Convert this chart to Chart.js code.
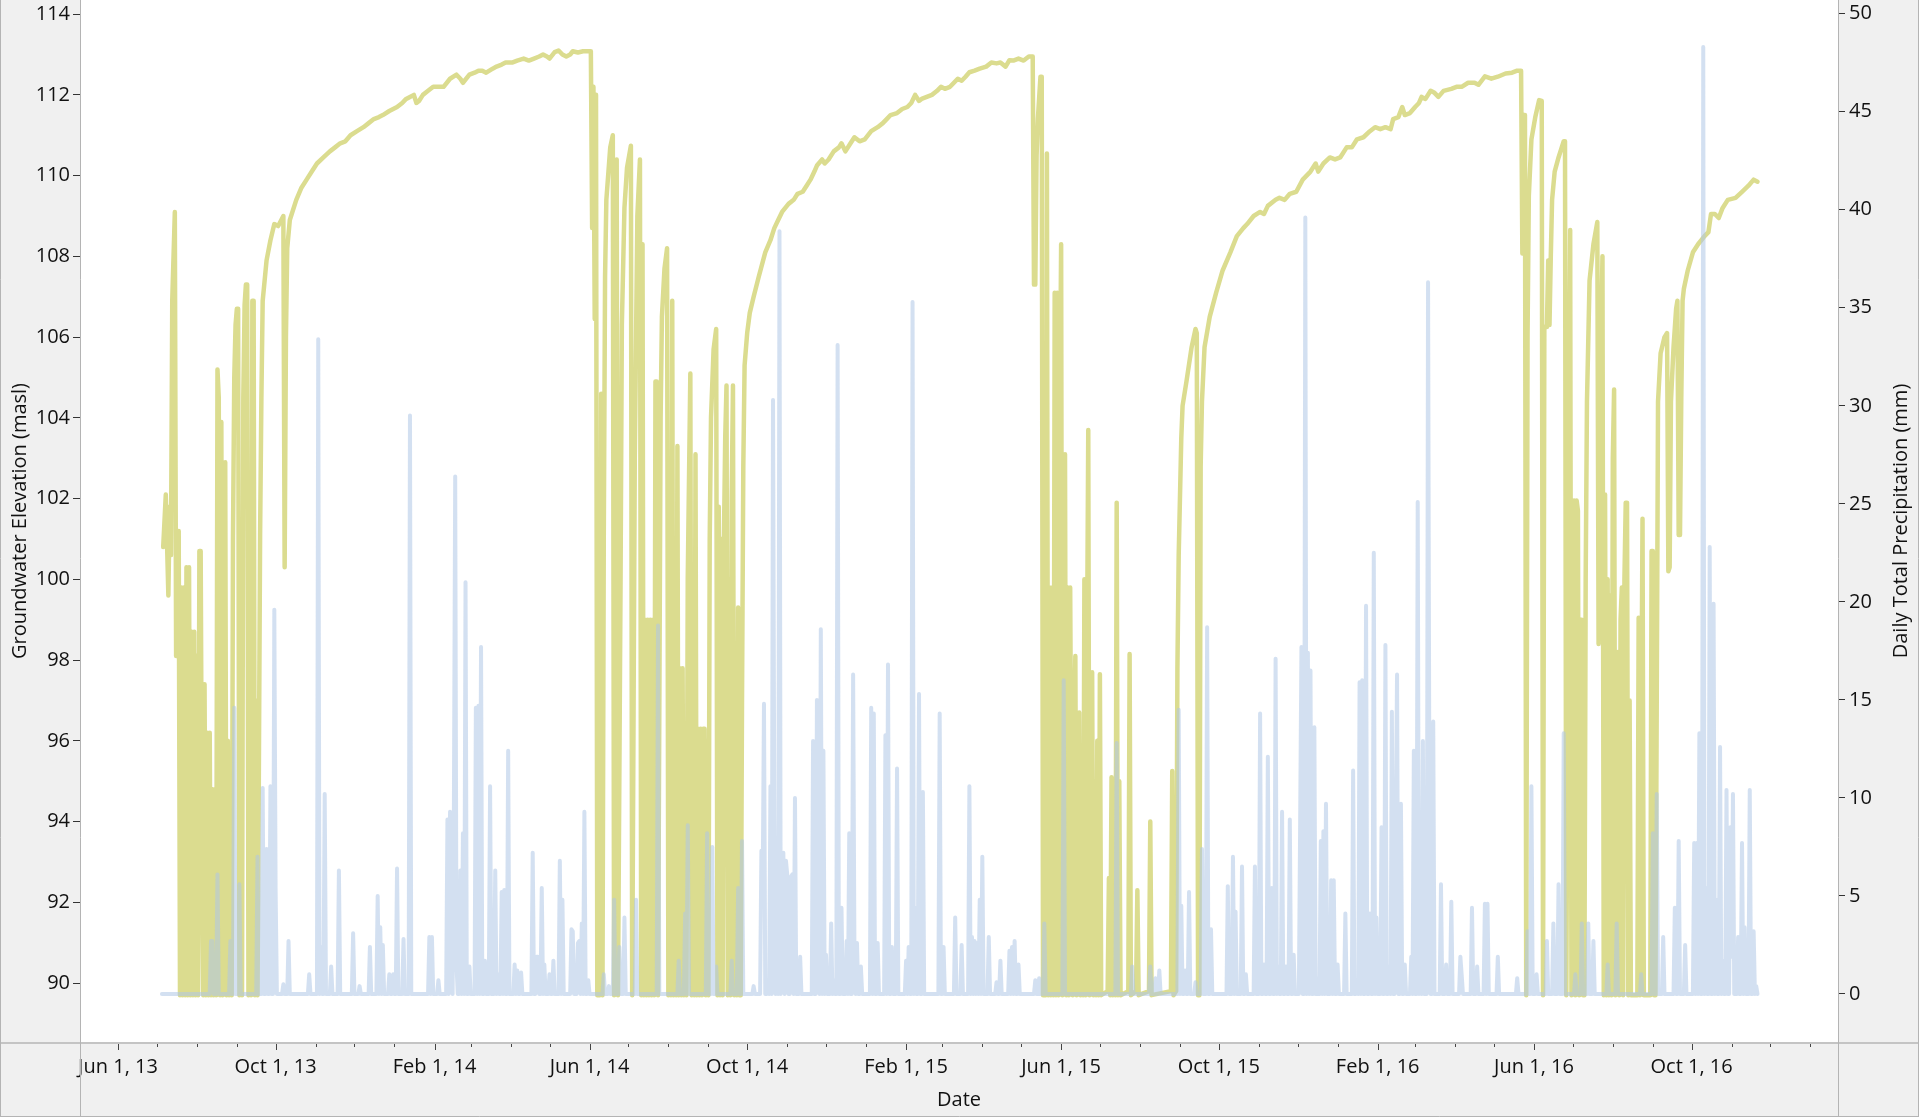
<!DOCTYPE html>
<html>
<head>
<meta charset="utf-8">
<title>Groundwater Elevation and Daily Total Precipitation</title>
<script src="https://cdn.jsdelivr.net/npm/chart.js@4.4.1/dist/chart.umd.min.js"></script>
<style>
  html, body { margin: 0; padding: 0; background: #f0f0f0; }
  #wrap { width: 1919px; height: 1117px; }
</style>
</head>
<body>
<div id="wrap"><canvas id="chart-gw" width="1919" height="1117"></canvas></div>
<script>
/**
 * Groundwater elevation vs daily precipitation, Jun 2013 - Nov 2016
 * Days are counted from 1 Jun 2013 (day 0).
 */

// Groundwater elevation (masl): [day, level]
var gw2013 = [
  [35,100.8],[37,102.1],[39,99.6],[40,101.8],[41,100.6],[42,106.9],[44,109.1],[45,98.1],[47,101.2],[48,89.7],
  [49,99.8],[50,89.7],[51,99.8],[52,89.7],[53,100.3],[54,89.7],[55,100.3],[56,89.7],[57,98.7],[58,89.7],
  [59,98.7],[60,89.7],[61,98.1],[62,89.7],[63,100.7],[64,100.7],[65,93.8],[66,89.7],[67,97.4],[68,89.7],
  [69,96.2],[70,89.7],[71,96.2],[72,89.7],[73,94.8],[74,89.7],[75,94.8],[76,89.7],[77,105.2],[78,104.5],
  [79,89.7],[80,103.9],[81,89.7],[82,98.2],[83,102.9],[84,89.7],[85,96],[86,89.7],[87,95],[88,89.7],
  [89,101],[90,105],[91,106.3],[92,106.7],[93,106.7],[94,89.7],[95,99],[96,89.7],[97,104.5],[98,106.8],
  [99,107.3],[100,107.3],[101,89.7],[102,99],[103,89.7],[104,106.9],[105,106.9],[106,89.7],[107,97],[108,89.7],
  [109,95],[110,101.1],[111,104.5],[112,106.9],[115,107.9],[118,108.4],[121,108.8],[124,108.75],[128,109.0],[129,100.3],
  [130,106],[131,108.2],[133,108.9],[138,109.4],[142,109.7],[146,109.9],[150,110.1],[154,110.3],[159,110.45],[164,110.6],
  [168,110.7],[172,110.8],[176,110.85],[180,111.0],[185,111.1],[190,111.2],[194,111.3],[198,111.4],[202,111.45],[205,111.5],
  [210,111.6]
];
var gw2014 = [
  [216,111.7],[220,111.8],[223,111.9],[226,111.95],[229,112.0],[231,111.8],[233,111.85],[236,112.0],[240,112.1],[244,112.2],
  [248,112.2],[252,112.2],[257,112.4],[262,112.5],[265,112.4],[267,112.3],[272,112.5],[276,112.55],[279,112.6],[282,112.6],
  [285,112.55],[290,112.65],[293,112.7],[297,112.75],[300,112.8],[305,112.8],[309,112.85],[314,112.9],[318,112.85],[322,112.9],
  [326,112.95],[329,113.0],[332,112.95],[334,112.9],[338,113.06],[341,113.1],[344,113.0],[347,112.95],[350,113.0],[352,113.08],
  [356,113.05],[360,113.08],[366,113.08],[367,108.7],[368,112.2],[369,106.45],[370,112.0],[371,89.7],[373,89.7],[374,104.6],
  [375,89.7],[376,101],[377,107.5],[378,109.4],[381,110.7],[383,111.0],[384,89.7],[385,105],[386,110.4],[387,89.7],
  [389,100],[390,106.3],[392,109.2],[394,110.2],[397,110.74],[398,89.7],[400,103],[402,109],[404,110.4],[405,89.7],
  [406,108.3],[407,89.7],[408,99],[409,89.7],[410,99],[411,89.7],[412,99],[413,89.7],[414,99],[415,89.7],
  [416,104.9],[417,104.9],[418,89.7],[420,104],[421,106.5],[423,107.7],[425,108.2],[426,89.7],[427,102],[428,89.7],
  [429,106.9],[430,89.7],[431,98],[432,89.7],[433,103.3],[434,89.7],[435,97.8],[436,89.7],[437,97.8],[438,89.7],
  [439,96],[440,89.7],[441,100],[443,105.1],[444,89.7],[445,98],[446,89.7],[447,103.1],[448,89.7],[449,96.3],
  [450,89.7],[451,96.3],[452,89.7],[453,96.3],[454,96.3],[455,89.7],[456,96.0],[457,89.7],[458,101],[459,104],
  [461,105.7],[463,106.2],[464,89.7],[465,101.8],[466,89.7],[467,101],[468,89.7],[469,101],[470,103.5],[471,104.8],
  [472,89.7],[473,100],[474,89.7],[475,102],[476,104.8],[477,89.7],[478,96.9],[479,89.7],[480,99.3],[481,89.7],
  [482,89.7],[483,97],[484,102.8],[485,105.3],[487,106.1],[489,106.6],[492,107.0],[496,107.5],[501,108.1],[505,108.4],
  [508,108.7],[511,108.9],[514,109.1],[519,109.3],[523,109.4],[526,109.55],[530,109.6],[533,109.75],[536,109.9],[539,110.1],
  [541,110.25],[545,110.4],[547,110.3],[550,110.4],[554,110.6],[558,110.7],[560,110.8],[563,110.6],[567,110.8],[570,110.95],
  [574,110.85],[578,110.9]
];
var gw2015 = [
  [583,111.1],[588,111.2],[592,111.3],[595,111.4],[598,111.5],[603,111.55],[607,111.65],[611,111.7],[614,111.8],[617,112.0],
  [620,111.85],[622,111.9],[626,111.95],[630,112.0],[634,112.1],[637,112.2],[640,112.15],[644,112.2],[647,112.3],[650,112.4],
  [653,112.35],[656,112.45],[659,112.56],[663,112.6],[667,112.65],[672,112.7],[676,112.8],[680,112.78],[683,112.8],[687,112.7],
  [690,112.86],[693,112.85],[697,112.9],[701,112.85],[705,112.95],[708,112.95],[709,107.3],[710,107.3],[711,110.5],[712,111.4],
  [714,112.45],[715,112.45],[716,89.7],[718,89.7],[719,110.55],[720,89.7],[721,99.8],[722,89.7],[723,99.8],[724,89.7],
  [725,107.1],[726,89.7],[727,107.1],[728,89.7],[729,104],[730,108.3],[731,89.7],[732,98],[733,103.1],[734,89.7],
  [735,99.8],[736,89.7],[737,99.8],[738,93.85],[739,89.7],[740,96],[741,98.1],[742,89.7],[743,95],[744,96.7],
  [745,89.7],[746,94],[747,89.7],[748,100.0],[749,89.7],[750,98],[751,103.7],[752,89.7],[753,96],[754,97.7],
  [755,89.7],[756,95],[757,89.7],[758,96],[759,89.7],[760,97.65],[761,89.7],[766,89.8],[767,92.6],[768,89.7],
  [769,95.1],[770,89.7],[771,95],[772,89.7],[773,101.9],[774,89.7],[775,95],[776,89.7],[782,89.8],[783,98.15],
  [784,89.7],[788,89.8],[789,92.3],[790,89.7],[798,89.8],[799,94.0],[800,89.7],[815,89.8],[816,95.25],[817,89.7],
  [819,89.8],[820,97.8],[821,100.6],[823,103.5],[824,104.3],[827,104.9],[831,105.75],[834,106.2],[835,106.1],[836,89.7],
  [837,89.7],[838,102.8],[839,104.4],[841,105.75],[845,106.5],[850,107.1],[855,107.65],[861,108.1],[866,108.5],[871,108.7],
  [874,108.8],[879,109.0],[884,109.1],[887,109.05],[890,109.25],[896,109.4],[899,109.45],[903,109.4],[907,109.55],[912,109.6],
  [917,109.9],[923,110.1],[927,110.3],[929,110.1],[933,110.3],[938,110.45],[942,110.4]
];
var gw2016 = [
  [946,110.45],[951,110.7],[955,110.7],[959,110.9],[964,110.95],[969,111.1],[973,111.2],[977,111.15],[981,111.2],[985,111.15],
  [987,111.4],[991,111.45],[994,111.7],[996,111.5],[1000,111.55],[1004,111.7],[1007,111.8],[1009,111.95],[1012,111.9],[1016,112.1],
  [1019,112.05],[1022,111.95],[1026,112.1],[1032,112.15],[1036,112.2],[1040,112.2],[1045,112.3],[1050,112.3],[1053,112.25],[1058,112.46],
  [1063,112.4],[1068,112.45],[1074,112.53],[1079,112.55],[1083,112.6],[1086,112.6],[1087,108.07],[1088,111.5],[1089,111.5],[1090,89.7],
  [1091,106],[1092,109.5],[1094,110.9],[1097,111.45],[1100,111.87],[1102,111.85],[1103,89.7],[1104,106.25],[1106,106.25],[1107,107.9],
  [1108,106.3],[1109,108],[1110,109.4],[1112,110.1],[1115,110.45],[1119,110.85],[1120,110.85],[1121,89.7],[1123,104],[1124,108.65],
  [1125,89.7],[1126,100],[1127,101.95],[1128,89.7],[1129,101.95],[1130,101.7],[1131,89.7],[1132,99],[1133,99.0],[1134,89.7],
  [1135,89.7],[1136,100],[1137,104.4],[1139,107.4],[1142,108.3],[1145,108.85],[1146,98.4],[1147,104],[1149,108.0],[1150,89.7],
  [1151,102.1],[1152,89.7],[1153,100],[1154,89.7],[1155,99.6],[1156,89.7],[1157,103],[1158,104.7],[1159,89.7],[1160,98],
  [1161,98.2],[1162,89.7],[1163,99],[1164,99.8],[1165,89.7],[1166,100],[1167,101.9],[1168,101.9],[1169,89.7],[1170,97],
  [1171,89.7],[1176,89.7],[1177,99.05],[1178,89.7],[1179,96],[1180,101.5],[1181,89.7],[1186,89.7],[1187,100.7],[1188,100.7],
  [1189,89.7],[1190,89.7],[1191,97],[1192,104.4],[1194,105.6],[1197,106.0],[1199,106.1],[1200,100.2],[1201,100.3],[1202,104.4],
  [1204,105.75],[1206,106.7],[1207,106.9],[1208,101.1],[1209,101.1],[1210,104.5],[1211,106.9],[1212,107.2],[1215,107.65],[1219,108.1],
  [1223,108.3],[1228,108.5],[1231,108.6],[1233,109.05],[1236,109.05],[1239,108.95],[1242,109.2],[1246,109.4],[1252,109.45],[1257,109.6],
  [1262,109.75],[1266,109.9],[1269,109.85]
];

// Daily total precipitation (mm) on rain days: [day, mm]; every other day is 0
var rain2013 = [
  [72,2.7],[73,2.7],[77,6.1],[87,2.7],[90,14.6],[94,5.6],[108,7.0],[112,10.5],[115,7.4],[118,10.6],
  [121,19.6],[122,5.3],[128,0.5],[132,2.7],[148,1.0],[155,33.4],[157,2.4],[160,10.2],[165,1.4],[171,6.3],
  [182,3.1],[187,0.4],[195,2.4],[201,5.0],[203,3.4],[205,2.5],[210,1.0],[213,1.0]
];
var rain2014 = [
  [216,6.4],[221,2.8],[226,29.5],[241,2.9],[243,2.9],[248,0.7],[255,8.9],[257,9.3],[258,3.1],[260,9.4],
  [261,26.4],[262,1.5],[265,6.3],[267,8.2],[269,21.0],[272,1.4],[277,14.6],[279,14.7],[281,17.7],[284,1.7],
  [288,10.6],[292,6.3],[294,1.0],[297,5.2],[299,5.3],[302,12.4],[307,1.5],[309,1.2],[312,1.1],[321,7.2],
  [324,1.9],[325,1.9],[328,5.4],[330,1.5],[334,1.0],[337,1.7],[342,6.8],[344,4.8],[351,3.3],[352,3.2],
  [356,2.6],[357,2.7],[359,3.6],[361,9.3],[364,0.7],[376,1.0],[380,0.4],[384,4.8],[388,2.4],[392,3.9],
  [401,4.8],[418,18.8],[434,1.7],[439,4.1],[441,8.6],[456,8.2],[460,7.5],[463,1.4],[475,1.7],[480,5.4],
  [483,7.8],[492,0.4],[498,7.3],[499,5.3],[500,14.8],[503,0.7],[505,10.6],[507,30.3],[508,8.9],[510,6.3],
  [512,38.9],[514,1.4],[515,7.2],[517,6.8],[518,6.1],[521,6.0],[522,6.1],[524,10.0],[528,1.9],[538,12.9],
  [541,15.0],[542,2.7],[544,18.6],[546,12.4],[548,2.0],[552,3.6],[554,0.7],[557,33.1],[560,4.4],[564,2.7],
  [566,8.2],[569,16.3],[570,2.4],[572,2.6],[575,1.4]
];
var rain2015 = [
  [583,14.6],[585,14.3],[588,2.6],[594,13.2],[596,16.8],[599,2.4],[603,11.5],[610,1.7],[612,2.4],[615,35.3],
  [617,4.4],[620,15.3],[623,10.3],[636,14.3],[639,2.4],[648,3.9],[653,2.5],[659,10.6],[661,2.9],[663,2.7],
  [665,2.6],[667,4.8],[669,7.0],[674,2.9],[680,0.6],[683,1.7],[690,2.2],[692,2.4],[694,2.7],[697,1.5],
  [710,0.7],[713,0.8],[717,3.6],[732,16.0],[773,12.8],[785,1.4],[799,1.4],[803,0.8],[806,1.2],[821,14.5],
  [823,4.5],[826,1.2],[829,5.2],[834,0.6],[839,7.4],[843,18.7],[846,3.3],[859,5.5],[863,7.0],[865,4.2],
  [870,6.5],[873,1.0],[880,6.5],[884,14.3],[887,1.5],[890,12.1],[893,5.4],[896,17.1],[898,1.4],[901,9.3],
  [904,1.4],[907,8.9],[910,2.0],[915,8.7],[916,17.7],[919,39.6],[921,17.4],[923,16.5],[926,13.6],[929,0.8],
  [931,7.8],[933,8.3],[935,9.7],[939,5.8],[941,5.8]
];
var rain2016 = [
  [944,1.5],[950,4.1],[956,11.4],[959,0.7],[961,15.9],[963,16.0],[966,19.8],[969,4.1],[972,22.5],[974,3.9],
  [978,8.5],[981,17.8],[984,1.4],[986,14.4],[989,8.2],[990,16.3],[993,9.7],[996,1.5],[1001,1.9],[1003,12.4],
  [1006,25.1],[1008,4.3],[1010,12.9],[1014,36.3],[1015,11.0],[1018,13.9],[1024,5.6],[1028,1.5],[1032,4.7],[1039,1.9],
  [1040,1.0],[1048,4.4],[1052,1.4],[1058,4.6],[1060,4.6],[1068,1.9],[1083,0.8],[1091,3.2],[1094,10.6],[1098,1.0],
  [1106,2.7],[1111,3.6],[1115,5.6],[1119,13.3],[1128,1.0],[1133,3.6],[1138,3.6],[1142,2.7],[1153,1.5],[1160,3.6],
  [1179,1.0],[1188,8.2],[1191,10.2],[1196,2.9],[1205,4.4],[1208,7.8],[1213,2.5],[1220,7.7],[1222,7.7],[1224,13.3],
  [1227,48.3],[1229,5.4],[1232,22.8],[1235,19.9],[1237,4.8],[1240,12.6],[1242,1.7],[1245,10.4],[1248,8.5],[1249,1.9],
  [1250,10.2],[1254,2.9],[1257,7.7],[1259,3.4],[1263,10.4],[1266,3.2],[1268,0.4]
];
var rainFirstDay = 34;   // first day of the precipitation record
var rainLastDay = 1269;  // last day of the precipitation record

// Axis ticks
var levelTicks = [90, 92, 94, 96, 98, 100, 102, 104, 106, 108, 110, 112, 114];
var rainTicks = [0, 5, 10, 15, 20, 25, 30, 35, 40, 45, 50];
var majorDates = ['2013-06-01', '2013-10-01', '2014-02-01', '2014-06-01', '2014-10-01', '2015-02-01',
                  '2015-06-01', '2015-10-01', '2016-02-01', '2016-06-01', '2016-10-01'];

var DAY0 = Date.UTC(2013, 5, 1);
var MS_DAY = 86400000;
var MONTHS = ['Jan','Feb','Mar','Apr','May','Jun','Jul','Aug','Sep','Oct','Nov','Dec'];
var FONT = 'Open Sans';
var TEXT = '#111111';

function dayOf(iso) {
  var p = iso.split('-');
  return Math.round((Date.UTC(+p[0], +p[1] - 1, +p[2]) - DAY0) / MS_DAY);
}

// Major labels by day number
var majorLabel = {};
majorDates.forEach(function(iso) {
  var p = iso.split('-');
  majorLabel[dayOf(iso)] = MONTHS[+p[1] - 1] + ' ' + (+p[2]) + ', ' + p[0].slice(2);
});

// Monthly ticks across the visible range
var X_MIN = -29.4, X_MAX = 1331.3;
var monthTicks = [];
for (var y = 2013; y <= 2017; y++) {
  for (var m = 0; m < 12; m++) {
    var d = Math.round((Date.UTC(y, m, 1) - DAY0) / MS_DAY);
    if (d >= X_MIN && d <= X_MAX) monthTicks.push(d);
  }
}

// Datasets
var gwSeries = gw2013.concat(gw2014, gw2015, gw2016).map(function(r) { return {x: r[0], y: r[1]}; });
var rainByDay = {};
rain2013.concat(rain2014, rain2015, rain2016).forEach(function(r) { rainByDay[r[0]] = r[1]; });
var rainSeries = [];
for (var k = rainFirstDay; k <= rainLastDay; k++) {
  rainSeries.push({x: k, y: rainByDay[k] || 0});
}

/**
 * Gray panels, white plot area, frame lines and date tick marks
 */
var framePlugin = {
  id: 'frame',
  beforeDraw: function(chart) {
    var ctx = chart.ctx, a = chart.chartArea;
    ctx.save();
    ctx.fillStyle = '#f0f0f0';
    ctx.fillRect(0, 0, chart.width, chart.height);
    ctx.fillStyle = '#ffffff';
    ctx.fillRect(a.left, a.top, a.right - a.left, a.bottom - a.top);
    ctx.restore();
  },
  afterDraw: function(chart) {
    var ctx = chart.ctx, a = chart.chartArea;
    ctx.save();
    ctx.strokeStyle = '#c4c4c4';
    ctx.lineWidth = 2;
    ctx.beginPath();
    ctx.moveTo(0, a.bottom + 1); ctx.lineTo(chart.width, a.bottom + 1);
    ctx.stroke();
    ctx.strokeStyle = '#b4b4b4';
    ctx.lineWidth = 1;
    ctx.beginPath();
    ctx.moveTo(a.left + 0.5, 0); ctx.lineTo(a.left + 0.5, chart.height);
    ctx.moveTo(a.right + 0.5, 0); ctx.lineTo(a.right + 0.5, chart.height);
    ctx.moveTo(0.5, 0); ctx.lineTo(0.5, chart.height);
    ctx.moveTo(chart.width - 0.5, 0); ctx.lineTo(chart.width - 0.5, chart.height);
    ctx.moveTo(0, chart.height - 0.5); ctx.lineTo(chart.width, chart.height - 0.5);
    ctx.stroke();

    // monthly tick marks, longer at labelled dates
    var xs = chart.scales.x;
    ctx.strokeStyle = '#444444';
    ctx.beginPath();
    monthTicks.forEach(function(v) {
      var px = Math.round(xs.getPixelForValue(v)) + 0.5;
      var len = majorLabel[v] ? 6 : 3;
      ctx.moveTo(px, a.bottom + 2);
      ctx.lineTo(px, a.bottom + 2 + len);
    });
    ctx.stroke();

    // right axis title, reading bottom to top
    ctx.fillStyle = TEXT;
    ctx.font = '20px "' + FONT + '"';
    ctx.textAlign = 'center';
    ctx.textBaseline = 'middle';
    ctx.translate(1901, (a.top + a.bottom) / 2);
    ctx.rotate(-Math.PI / 2);
    ctx.fillText('Daily Total Precipitation (mm)', 0, 0);
    ctx.restore();
  }
};

/**
 * Fixes a vertical axis to a set width with no extra top/bottom margin
 */
function fitVertical(width) {
  return function(scale) {
    scale.width = width;
    scale.paddingTop = 0;
    scale.paddingBottom = 0;
  };
}

new Chart(document.getElementById('chart-gw'), {
  type: 'line',
  data: {
    datasets: [{
      label: 'Daily Total Precipitation (mm)',
      data: rainSeries,
      yAxisID: 'y1',
      borderColor: 'rgba(175, 199, 230, 0.55)',
      borderWidth: 4,
      borderJoinStyle: 'round',
      borderCapStyle: 'round',
      pointRadius: 0,
      tension: 0,
      order: 0
    }, {
      label: 'Groundwater Elevation (masl)',
      data: gwSeries,
      yAxisID: 'y',
      borderColor: '#dbdc8f',
      borderWidth: 4.5,
      borderJoinStyle: 'round',
      borderCapStyle: 'round',
      pointRadius: 0,
      tension: 0,
      order: 1
    }]
  },
  options: {
    responsive: false,
    animation: false,
    devicePixelRatio: 1,
    layout: { padding: 0 },
    plugins: {
      legend: { display: false },
      tooltip: { enabled: false }
    },
    scales: {
      x: {
        type: 'linear',
        min: X_MIN,
        max: X_MAX,
        afterBuildTicks: function(scale) {
          scale.ticks = monthTicks.map(function(v) { return {value: v}; });
        },
        afterFit: function(scale) {
          scale.height = 75;
          scale.paddingLeft = 0;
          scale.paddingRight = 0;
        },
        grid: { display: false, drawTicks: false, tickLength: 0 },
        border: { display: false },
        ticks: {
          autoSkip: false,
          maxRotation: 0,
          minRotation: 0,
          padding: 13,
          color: TEXT,
          font: { family: FONT, size: 20 },
          callback: function(value) { return majorLabel[value] || ''; }
        },
        title: {
          display: true,
          text: 'Date',
          color: TEXT,
          font: { family: FONT, size: 20 },
          padding: { top: 0, bottom: 5 }
        }
      },
      y: {
        position: 'left',
        min: 88.54,
        max: 114.35,
        afterBuildTicks: function(scale) {
          scale.ticks = levelTicks.map(function(v) { return {value: v}; });
        },
        afterFit: fitVertical(80),
        grid: { display: true, drawOnChartArea: false, drawTicks: true, tickLength: 7, tickColor: '#333333' },
        border: { display: false },
        ticks: { padding: 3, color: TEXT, font: { family: FONT, size: 20 } },
        title: {
          display: true,
          text: 'Groundwater Elevation (masl)',
          color: TEXT,
          font: { family: FONT, size: 20 },
          padding: { top: 8, bottom: 0 }
        }
      },
      y1: {
        position: 'right',
        min: -2.45,
        max: 50.7,
        afterBuildTicks: function(scale) {
          scale.ticks = rainTicks.map(function(v) { return {value: v}; });
        },
        afterFit: fitVertical(81),
        grid: { display: true, drawOnChartArea: false, drawTicks: true, tickLength: 7, tickColor: '#333333' },
        border: { display: false },
        ticks: { padding: 4, color: TEXT, font: { family: FONT, size: 20 } },
        title: { display: false }
      }
    }
  },
  plugins: [framePlugin]
});
</script>
</body>
</html>
